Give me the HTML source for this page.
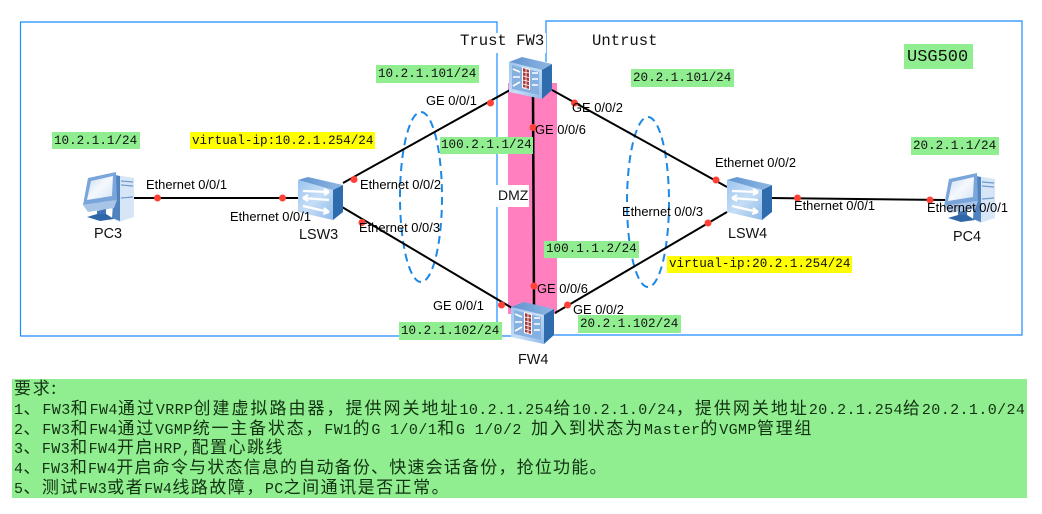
<!DOCTYPE html>
<html><head><meta charset="utf-8"><style>
html,body{margin:0;padding:0;background:#fff;width:1042px;height:514px;overflow:hidden}
svg{position:absolute;left:0;top:0}
.m{font-family:"Liberation Mono",monospace;font-size:12.6px;fill:#111}
.s{font-family:"Liberation Sans",sans-serif;font-size:12.9px;fill:#000}
.d{font-family:"Liberation Sans",sans-serif;font-size:14.4px;fill:#111}
.g{fill:#90ee90}.y{fill:#ffff00}
.r{position:absolute;left:14px;height:20px;line-height:20px;white-space:pre;font-family:"Noto Sans CJK SC",sans-serif;font-size:17px;letter-spacing:1.7px;color:#123212}
.r i{font-style:normal;font-family:"Liberation Mono",monospace;font-size:15px;letter-spacing:.4px}
#b{position:absolute;left:12px;top:379px;width:1015px;height:119px;background:#90ee90}
</style></head><body>
<svg width="1042" height="514" viewBox="0 0 1042 514">
<defs>
<linearGradient id="f" x1="0" y1="0" x2="1" y2="1"><stop offset="0" stop-color="#9cc4ef"/><stop offset=".5" stop-color="#c6def6"/><stop offset="1" stop-color="#8fbaea"/></linearGradient>
<linearGradient id="t" x1="0" y1="0" x2="1" y2="0"><stop offset="0" stop-color="#5f93d0"/><stop offset="1" stop-color="#8fb7e2"/></linearGradient>
<linearGradient id="sc" x1="0" y1="0" x2="1" y2="1"><stop offset="0" stop-color="#c9dcf2"/><stop offset=".5" stop-color="#f4f8fd"/><stop offset="1" stop-color="#d5e4f5"/></linearGradient>
<g id="fw">
<polygon points="509,62 522,57 552,64 542,70" fill="url(#t)"/>
<polygon points="542,70 552,64 552,90 542,99" fill="#2f6cae"/>
<polygon points="509,62 542,70 542,99 509,92" fill="url(#f)"/>
<polygon points="512,65 539,72 539,95 512,89" fill="#86b0e0"/>
<polygon points="522,67 530,69 530,90 522,88" fill="#fff"/>
<polygon points="523,68 529,70 529,89 523,87" fill="#a93a3a"/>
<path d="M523 72l6 1M523 76l6 1.500M523 80l6 1.500M523 84l6 1.500M526 69v19" stroke="#fff" stroke-width=".8" fill="none"/>
<path d="M513 69l7 3M513 77h7M513 86l7-4M532 73h6M532 79h6M532 85h6" stroke="#fff" stroke-width="1.600" fill="none"/>
</g>
<g id="sw">
<polygon points="298,180 308,177 343,185 333,190" fill="url(#t)"/>
<polygon points="333,190 343,185 343,212 333,220" fill="#2f6cae"/>
<polygon points="298,180 333,190 333,220 298,212" fill="url(#f)"/>
<path d="M303 191l26 1M329 192l-5-3M329 192l-5 3M329 200l-26-2M303 198l5-3M303 198l5 3M303 206l26 6M329 212l-5-4M329 212l-6 2" stroke="#fff" stroke-width="2.200" fill="none"/>
</g>
<g id="pc">
<polygon points="115,176 122,176 134,178 134,217 119,222 115,220" fill="#d7e6f6"/>
<polygon points="115,175 120,176 120,221 112,218" fill="#4f82bf"/>
<path d="M121 181l12 1M121 185l12 1M121 198l12-1" stroke="#6f9bd0" stroke-width="1.200"/>
<polygon points="88,178 116,172 117,200 83,205" fill="#7aa5da"/>
<polygon points="91,181 113,176 112,196 87,200" fill="url(#sc)"/>
<polygon points="83,205 117,200 114,208 88,212" fill="#a8c5e8"/>
<polygon points="97,211 106,209 106,216 97,216" fill="#3e73b4"/>
<polygon points="87,217 97,214 106,214 114,219 100,221" fill="#2f66a8"/>
</g>
</defs>
<g fill="none" stroke="#1a8cff" stroke-width="1.200">
<path d="M497 53V22H20.500V336H400M502 336h9M497 207V336M497 185V53M497 22v11"/>
<path d="M546 62V21H1022V335H553"/>
</g>
<rect x="508" y="83" width="49" height="231" fill="#ff7fbf"/>
<rect x="458" y="33" width="88" height="20" fill="#fff"/>
<rect x="497" y="185" width="32" height="22" fill="#fff"/>
<text x="460" y="45" font-family="Liberation Mono,monospace" font-size="15.600" fill="#111">Trust FW3</text>
<text x="592" y="45" font-family="Liberation Mono,monospace" font-size="15.600" fill="#111">Untrust</text>
<text x="498" y="200" font-family="Liberation Sans,sans-serif" font-size="14" fill="#111">DMZ</text>
<g fill="none" stroke="#1e88e5" stroke-width="2" stroke-dasharray="8 5">
<ellipse cx="421" cy="197" rx="21" ry="85"/>
<ellipse cx="648" cy="202" rx="21" ry="85"/>
</g>
<g stroke="#000" stroke-width="2" fill="none">
<path d="M134 198H298M343 183L510 90M342 207L512 308M552 90L727 187M555 313L727 212M770 198L945 200"/>
<path d="M533 95L534 305" stroke-width="2.500"/>
</g>
<rect x="52" y="132" width="88" height="17" class="g"/>
<rect x="190" y="132" width="185" height="17" class="y"/>
<rect x="376" y="65" width="103" height="18" class="g"/>
<rect x="631" y="69" width="103" height="18" class="g"/>
<rect x="440" y="137" width="93" height="17" class="g"/>
<rect x="544" y="241" width="95" height="17" class="g"/>
<rect x="399" y="322" width="103" height="18" class="g"/>
<rect x="578" y="315" width="103" height="18" class="g"/>
<rect x="904" y="44" width="69" height="25" class="g"/>
<rect x="911" y="137" width="88" height="18" class="g"/>
<rect x="667" y="256" width="185" height="17" class="y"/>
<g class="m">
<text class="m" x="54" y="144">10.2.1.1/24</text>
<text class="m" x="192" y="144">virtual-ip:10.2.1.254/24</text>
<text class="m" x="378" y="77">10.2.1.101/24</text>
<text class="m" x="633" y="81">20.2.1.101/24</text>
<text class="m" x="441" y="148">100.2.1.1/24</text>
<text class="m" x="546" y="252">100.1.1.2/24</text>
<text class="m" x="401" y="334">10.2.1.102/24</text>
<text class="m" x="580" y="327">20.2.1.102/24</text>
<text class="m" x="913" y="149">20.2.1.1/24</text>
<text class="m" x="669" y="267">virtual-ip:20.2.1.254/24</text>
<text x="907" y="61" font-family="Liberation Mono,monospace" font-size="17" fill="#111">USG500</text>
</g>
<use href="#pc"/>
<use href="#pc" transform="translate(861,1)"/>
<use href="#sw"/>
<use href="#sw" transform="translate(429,0)"/>
<use href="#fw"/>
<use href="#fw" transform="translate(2,245)"/>
<g fill="#ff4136">
<circle cx="157.500" cy="198" r="3.500"/><circle cx="282.500" cy="198" r="3.500"/>
<circle cx="354" cy="179.500" r="3.500"/><circle cx="490.500" cy="103" r="3.500"/>
<circle cx="362" cy="222.500" r="3.500"/><circle cx="501.500" cy="305" r="3.500"/>
<circle cx="574.500" cy="103" r="3.500"/><circle cx="716" cy="180" r="3.500"/>
<circle cx="567.500" cy="305" r="3.500"/><circle cx="708" cy="223" r="3.500"/>
<circle cx="797.500" cy="198" r="3.500"/><circle cx="930" cy="200" r="3.500"/>
<circle cx="533" cy="127.500" r="3.500"/><circle cx="534" cy="286" r="3.500"/>
</g>
<text class="s" x="146" y="189">Ethernet 0/0/1</text>
<text class="s" x="230" y="221">Ethernet 0/0/1</text>
<text class="s" x="360" y="189">Ethernet 0/0/2</text>
<text class="s" x="359" y="232">Ethernet 0/0/3</text>
<text class="s" x="426" y="105">GE 0/0/1</text>
<text class="s" x="572" y="112">GE 0/0/2</text>
<text class="s" x="535" y="134">GE 0/0/6</text>
<text class="s" x="715" y="167">Ethernet 0/0/2</text>
<text class="s" x="622" y="216">Ethernet 0/0/3</text>
<text class="s" x="794" y="210">Ethernet 0/0/1</text>
<text class="s" x="927" y="212">Ethernet 0/0/1</text>
<text class="s" x="537" y="293">GE 0/0/6</text>
<text class="s" x="433" y="310">GE 0/0/1</text>
<text class="s" x="573" y="314">GE 0/0/2</text>
<text class="d" x="94" y="238">PC3</text>
<text class="d" x="299" y="239">LSW3</text>
<text class="d" x="518" y="364">FW4</text>
<text class="d" x="728" y="238">LSW4</text>
<text class="d" x="953" y="241">PC4</text>
</svg>
<div id="b"></div>
<div class="r" style="top:377px">要求:</div>
<div class="r" style="top:397px;letter-spacing:2px"><i>1</i>、<i>FW3</i>和<i>FW4</i>通过<i>VRRP</i>创建虚拟路由器&#xFF0C;提供网关地址<i>10.2.1.254</i>给<i>10.2.1.0/24</i>&#xFF0C;提供网关地址<i>20.2.1.254</i>给<i>20.2.1.0/24</i></div>
<div class="r" style="top:417px;letter-spacing:1.8px"><i>2</i>、<i>FW3</i>和<i>FW4</i>通过<i>VGMP</i>统一主备状态&#xFF0C;<i>FW1</i>的<i>G 1/0/1</i>和<i>G 1/0/2 </i>加入到状态为<i>Master</i>的<i>VGMP</i>管理组</div>
<div class="r" style="top:436px;letter-spacing:1.5px"><i>3</i>、<i>FW3</i>和<i>FW4</i>开启<i>HRP,</i>配置心跳线</div>
<div class="r" style="top:456px;letter-spacing:1.2px"><i>4</i>、<i>FW3</i>和<i>FW4</i>开启命令与状态信息的自动备份、快速会话备份&#xFF0C;抢位功能。</div>
<div class="r" style="top:476px;letter-spacing:1.5px"><i>5</i>、测试<i>FW3</i>或者<i>FW4</i>线路故障&#xFF0C;<i>PC</i>之间通讯是否正常。</div>
</body></html>
